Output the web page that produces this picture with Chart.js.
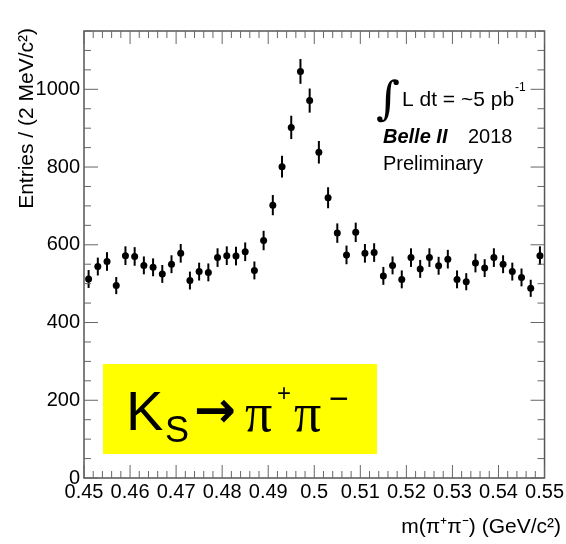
<!DOCTYPE html>
<html lang="en">
<head>
    <meta charset="UTF-8">
    <title>Belle II Ks to pi+ pi-</title>
    <script src="https://cdn.jsdelivr.net/npm/chart.js"></script>
    <style>
        body { margin: 0; background: #ffffff; }
        #wrap { width: 566px; height: 544px; }
    </style>
</head>
<body>
    <div id="wrap"><canvas id="massChart"></canvas></div>

    <script>
        // bin centres, 2 MeV wide bins (GeV/c^2)
        const binCenters = [
            0.451, 0.453, 0.455, 0.457, 0.459, 0.461, 0.463, 0.465, 0.467, 0.469,
            0.471, 0.473, 0.475, 0.477, 0.479, 0.481, 0.483, 0.485, 0.487, 0.489,
            0.491, 0.493, 0.495, 0.497, 0.499, 0.501, 0.503, 0.505, 0.507, 0.509,
            0.511, 0.513, 0.515, 0.517, 0.519, 0.521, 0.523, 0.525, 0.527, 0.529,
            0.531, 0.533, 0.535, 0.537, 0.539, 0.541, 0.543, 0.545, 0.547, 0.549
        ];
        // entries per bin
        const entries = [
            512, 544, 557, 495, 572, 570, 547, 542, 525, 550,
            578, 508, 531, 529, 567, 572, 571, 582, 534, 611,
            702, 801, 902, 1046, 971, 838, 721, 630, 574, 632,
            578, 580, 520, 547, 511, 567, 538, 567, 546, 563,
            511, 505, 553, 540, 567, 550, 531, 516, 488, 572
        ];
        // statistical errors
        const errors = [
            23, 23, 24, 22, 24, 24, 23, 23, 23, 23,
            24, 23, 23, 23, 24, 24, 24, 24, 23, 25,
            26, 28, 30, 32, 31, 29, 27, 25, 24, 25,
            24, 24, 23, 23, 23, 24, 23, 24, 23, 24,
            23, 22, 24, 23, 24, 23, 23, 23, 22, 24
        ];
        const xTickLabels = ['0.45', '0.46', '0.47', '0.48', '0.49', '0.5', '0.51', '0.52', '0.53', '0.54', '0.55'];
        const yTickValues = [0, 200, 400, 600, 800, 1000];

        const FONT = '"Liberation Sans", Arial, sans-serif';

        // error bars, frame with inner ticks, labels and annotations
        const rootStyle = {
            id: 'rootStyle',
            beforeDatasetsDraw(chart) {
                const { ctx, scales: { x, y } } = chart;
                ctx.save();
                ctx.strokeStyle = '#000';
                ctx.lineWidth = 2;
                binCenters.forEach((c, i) => {
                    const px = x.getPixelForValue(c);
                    ctx.beginPath();
                    ctx.moveTo(px, y.getPixelForValue(entries[i] - errors[i]));
                    ctx.lineTo(px, y.getPixelForValue(entries[i] + errors[i]));
                    ctx.stroke();
                });
                ctx.restore();
            },
            afterDraw(chart) {
                const { ctx, chartArea: a, scales: { x, y } } = chart;
                ctx.save();
                ctx.strokeStyle = '#555';
                ctx.lineWidth = 1.5;
                ctx.strokeRect(a.left, a.top, a.right - a.left, a.bottom - a.top);

                ctx.lineWidth = 1;
                ctx.strokeStyle = '#666';
                ctx.beginPath();
                for (let i = 0; i <= 50; i++) {
                    const px = x.getPixelForValue(0.45 + i * 0.002);
                    const len = i % 5 === 0 ? 13 : 7;
                    ctx.moveTo(px, a.bottom); ctx.lineTo(px, a.bottom - len);
                    ctx.moveTo(px, a.top); ctx.lineTo(px, a.top + len);
                }
                for (let i = 0; i * 50 <= 1150; i++) {
                    const py = y.getPixelForValue(i * 50);
                    const len = i % 4 === 0 ? 14 : 7;
                    ctx.moveTo(a.left, py); ctx.lineTo(a.left + len, py);
                    ctx.moveTo(a.right, py); ctx.lineTo(a.right - len, py);
                }
                ctx.stroke();

                // axis titles
                ctx.fillStyle = '#000';
                ctx.font = '21px ' + FONT;
                ctx.textAlign = 'right';
                ctx.textBaseline = 'alphabetic';
                ctx.fillText('m(\u03C0\u207A\u03C0\u207B) (GeV/c\u00B2)', 561, 533);

                ctx.save();
                ctx.translate(33, 28);
                ctx.rotate(-Math.PI / 2);
                ctx.textAlign = 'right';
                ctx.fillText('Entries / (2 MeV/c\u00B2)', 0, 0);
                ctx.restore();

                // luminosity / experiment text
                ctx.textAlign = 'left';
                ctx.font = '46px "DejaVu Serif", serif';
                ctx.fillText('\u222B', 376, 114);
                ctx.font = '21px ' + FONT;
                const lumi = 'L dt = ~5 pb';
                ctx.fillText(lumi, 402, 106);
                const supX = 402 + ctx.measureText(lumi).width + 1;
                ctx.font = '12px ' + FONT;
                ctx.fillText('-1', supX, 91);
                ctx.font = 'italic bold 20px ' + FONT;
                ctx.fillText('Belle II', 383, 143);
                ctx.font = '20px ' + FONT;
                ctx.fillText('2018', 468, 143);
                ctx.fillText('Preliminary', 383, 170);

                // decay label box
                ctx.fillStyle = '#ffff00';
                ctx.fillRect(103, 364, 274, 90);
                ctx.fillStyle = '#000';
                ctx.font = '56px ' + FONT;
                ctx.fillText('K', 126, 430);
                ctx.font = '36px ' + FONT;
                ctx.fillText('S', 165, 442);
                ctx.font = 'bold 50px "DejaVu Sans", sans-serif';
                ctx.fillText('\u2192', 194, 427);
                ctx.font = '54px "Liberation Serif", serif';
                ctx.fillText('\u03C0', 245, 431);
                ctx.font = '24px ' + FONT;
                ctx.fillText('+', 277, 401);
                ctx.font = '54px "Liberation Serif", serif';
                ctx.fillText('\u03C0', 294, 431);
                ctx.font = '34px ' + FONT;
                ctx.fillText('\u2212', 329, 410);
                ctx.restore();
            }
        };

        const ctx = document.getElementById('massChart').getContext('2d');
        const massChart = new Chart(ctx, {
            type: 'scatter',
            data: {
                datasets: [{
                    label: 'Entries',
                    data: binCenters.map((c, i) => ({ x: c, y: entries[i] })),
                    backgroundColor: '#000',
                    borderWidth: 0,
                    pointRadius: 3.5,
                    pointHoverRadius: 3.5
                }]
            },
            options: {
                responsive: true,
                maintainAspectRatio: false,
                animation: false,
                layout: { padding: { top: 31, right: 21, left: 0, bottom: 0 } },
                plugins: { legend: { display: false }, tooltip: { enabled: false } },
                scales: {
                    x: {
                        type: 'linear',
                        min: 0.45,
                        max: 0.55,
                        grid: { display: false, drawTicks: false },
                        border: { display: false },
                        afterFit: s => { s.height = 66; },
                        ticks: {
                            stepSize: 0.01,
                            autoSkip: false,
                            maxRotation: 0,
                            padding: 2,
                            color: '#000',
                            font: { family: FONT, size: 20 },
                            callback: (v, i) => xTickLabels[i]
                        }
                    },
                    y: {
                        min: 0,
                        max: 1150,
                        grid: { display: false, drawTicks: false },
                        border: { display: false },
                        afterFit: s => { s.width = 84; },
                        afterBuildTicks: s => { s.ticks = yTickValues.map(v => ({ value: v })); },
                        ticks: {
                            padding: 4,
                            color: '#000',
                            font: { family: FONT, size: 20 },
                            callback: v => String(v)
                        }
                    }
                }
            },
            plugins: [rootStyle]
        });
    </script>
</body>
</html>
